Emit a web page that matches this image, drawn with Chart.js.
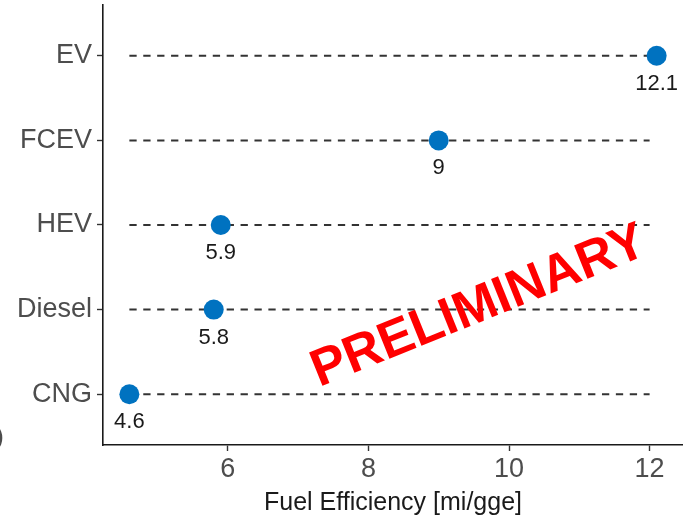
<!DOCTYPE html>
<html>
<head>
<meta charset="utf-8">
<script src="https://cdn.jsdelivr.net/npm/chart.js@4"></script>
<style>
  html,body{margin:0;padding:0;background:#fff;overflow:hidden}
  #wrap{width:683px;height:519px;position:relative}
</style>
</head>
<body>
<div id="wrap"><canvas id="c" width="683" height="519"></canvas></div>
<script>
// data (top to bottom)
const categories=['EV','FCEV','HEV','Diesel','CNG'];
const efficiency=[12.1,9,5.9,5.8,4.6];
const valueLabels=['12.1','9','5.9','5.8','4.6'];
const xTicks=[6,8,10,12];
const guideFrom=4.6, guideTo=12;
const axisTitle='Fuel Efficiency [mi/gge]';
const stamp='PRELIMINARY';

const n=categories.length;
const yOf=i=>n-i;
const FONT='"Liberation Sans", Arial, sans-serif';

const guides=categories.map((c,i)=>({
  type:'line',showLine:true,order:1,
  data:[{x:guideFrom,y:yOf(i)},{x:guideTo,y:yOf(i)}],
  borderColor:'#333',borderWidth:2,borderDash:[7.3,6.6],
  pointRadius:0,pointHoverRadius:0,fill:false
}));

const extras={
  id:'extras',
  afterDatasetsDraw(chart){
    const ctx=chart.ctx, meta=chart.getDatasetMeta(0);
    ctx.save();
    // value labels under the dots
    ctx.font='22px '+FONT;
    ctx.fillStyle='#1a1a1a';ctx.textAlign='center';ctx.textBaseline='middle';
    meta.data.forEach((p,i)=>ctx.fillText(valueLabels[i],p.x,p.y+28));
    // stamp
    ctx.translate(479,307);ctx.rotate(-22*Math.PI/180);
    ctx.font='bold 52px '+FONT;
    ctx.fillStyle='#ff0000';
    ctx.fillText(stamp,0,0);
    ctx.restore();
    // cut-off glyph at left edge
    ctx.save();
    ctx.font='26px '+FONT;
    ctx.fillStyle='#4d4d4d';ctx.textAlign='right';ctx.textBaseline='alphabetic';
    ctx.fillText(')',4,445);
    ctx.restore();
  }
};

new Chart(document.getElementById('c'),{
  type:'scatter',
  data:{datasets:[
    {data:efficiency.map((v,i)=>({x:v,y:yOf(i)})),order:0,clip:false,
     backgroundColor:'#0072c0',borderColor:'#0072c0',pointRadius:10,pointHoverRadius:10,borderWidth:0},
    ...guides
  ]},
  options:{
    responsive:false,animation:false,devicePixelRatio:1,
    layout:{autoPadding:false,padding:{top:5,right:0,left:0,bottom:0}},
    plugins:{legend:{display:false},tooltip:{enabled:false}},
    scales:{
      x:{type:'linear',min:4.225,max:12.475,
        afterBuildTicks:s=>{s.ticks=xTicks.map(v=>({value:v}));},
        afterFit:s=>{s.height=74;s.paddingLeft=0;s.paddingRight=0;},
        border:{color:'#1a1a1a',width:1.6},
        grid:{drawOnChartArea:false,tickLength:6,tickColor:'#333',tickWidth:1.4},
        ticks:{padding:2,color:'#4d4d4d',font:{family:FONT,size:27},maxRotation:0},
        title:{display:true,text:axisTitle,color:'#1a1a1a',padding:{top:0,bottom:1},
          font:{family:FONT,size:25}}
      },
      y:{type:'linear',min:0.4,max:5.6,
        afterBuildTicks:s=>{s.ticks=categories.map((c,i)=>({value:yOf(i)}));},
        afterFit:s=>{s.width=103;s.paddingTop=0;s.paddingBottom=0;},
        border:{color:'#1a1a1a',width:1.6},
        grid:{drawOnChartArea:false,tickLength:6,tickColor:'#333',tickWidth:1.4},
        ticks:{padding:5,color:'#4d4d4d',font:{family:FONT,size:27},
          callback:v=>categories[n-v]}
      }
    }
  },
  plugins:[extras]
});
</script>
</body>
</html>
